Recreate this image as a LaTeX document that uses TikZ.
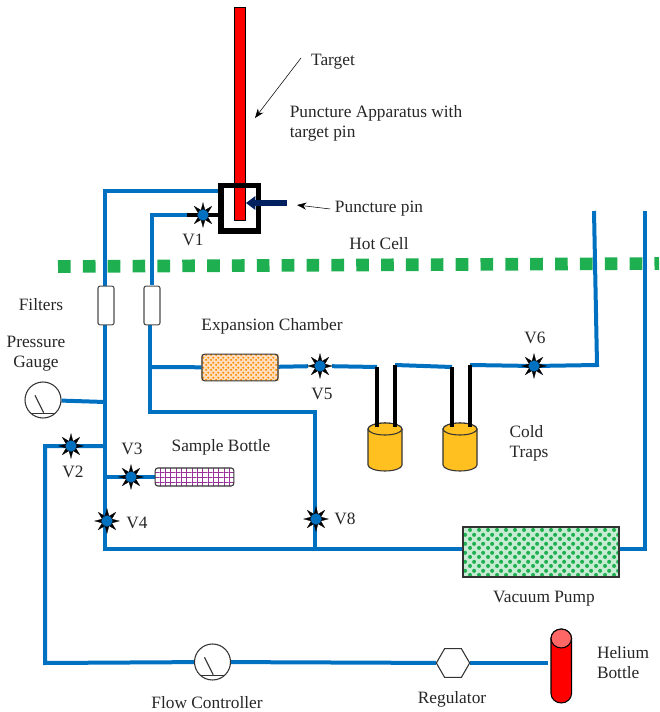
\documentclass[tikz,border=0pt]{standalone}
\usepackage{fontspec}
\setmainfont{Liberation Serif}
\usetikzlibrary{patterns,shapes.geometric,arrows.meta,backgrounds}
\definecolor{pipeblue}{RGB}{0,112,192}
\definecolor{trapgold}{RGB}{255,192,32}
\definecolor{cellgreen}{RGB}{30,176,80}
\definecolor{pinnavy}{RGB}{0,32,96}
\pgfdeclarepatternformonly{bigdots}{\pgfqpoint{0pt}{0pt}}{\pgfqpoint{6.75pt}{6.75pt}}{\pgfqpoint{6.75pt}{6.75pt}}{
	\pgfpathcircle{\pgfqpoint{1.69pt}{1.69pt}}{1.65pt}
	\pgfpathcircle{\pgfqpoint{5.06pt}{5.06pt}}{1.65pt}
	\pgfusepath{fill}}
\pgfdeclarepatternformonly{finedots}{\pgfqpoint{0pt}{0pt}}{\pgfqpoint{3.5pt}{3.5pt}}{\pgfqpoint{3.5pt}{3.5pt}}{
	\pgfpathcircle{\pgfqpoint{0.875pt}{0.875pt}}{0.85pt}
	\pgfpathcircle{\pgfqpoint{2.625pt}{2.625pt}}{0.85pt}
	\pgfusepath{fill}}
\pgfdeclarepatternformonly{widegrid}{\pgfqpoint{-0.5pt}{-0.5pt}}{\pgfqpoint{3.5pt}{3.5pt}}{\pgfqpoint{4pt}{4pt}}{
	\pgfsetlinewidth{0.6pt}
	\pgfpathmoveto{\pgfqpoint{-0.5pt}{0pt}}\pgfpathlineto{\pgfqpoint{3.5pt}{0pt}}
	\pgfpathmoveto{\pgfqpoint{0pt}{-0.5pt}}\pgfpathlineto{\pgfqpoint{0pt}{3.5pt}}
	\pgfusepath{stroke}}
\begin{document}
\begin{tikzpicture}[x=0.75pt, y=-0.75pt, every node/.style={font=\fontsize{13}{15}\selectfont, align=center, text=black!85},
	pipe/.style={draw=pipeblue, line width=3pt},
	tube/.style={draw=black, line width=3.4pt},
	valve/.style={draw=black, fill=black, line width=0.2pt, star, star points=8, star point ratio=2.4, minimum size=18.5pt, inner sep=0pt, path picture={\fill[pipeblue] (path picture bounding box.center) circle (4.2pt);}},
	filter/.style={draw=black!70, fill=white, rounded corners=1.5pt, thick, minimum width=12pt, minimum height=29pt, inner sep=0pt},
	dial/.style={draw=black!80, fill=white, circle, thick, minimum size=27pt, inner sep=0pt, path picture={
		\draw[black!80, thick] ([shift={(-6pt,3.5pt)}]path picture bounding box.center) -- ([shift={(0.5pt,-9.5pt)}]path picture bounding box.center);
		\draw[black!80, thick] ([shift={(-15pt,-10pt)}]path picture bounding box.center) -- ([shift={(15pt,-10pt)}]path picture bounding box.center);}}]
	\useasboundingbox (0,0) rectangle (659,712);
	% components
	\node[draw=black, fill=red, minimum width=8pt, minimum height=160pt, inner sep=0pt] (rod) at (239.5,114) {};
	\node[draw=black, line width=4pt, minimum width=28pt, minimum height=34pt, inner sep=0pt] (box) at (239.5,208.5) {};
	\node[valve] (V1) at (203,215) {};
	\node[valve] (V2) at (71,446) {};
	\node[valve] (V3) at (131,477) {};
	\node[valve] (V4) at (107,521) {};
	\node[valve] (V5) at (320,366) {};
	\node[valve] (V6) at (534,366) {};
	\node[valve] (V8) at (316,519) {};
	\node[filter] (filterA) at (106,305.5) {};
	\node[filter] (filterB) at (152,305.5) {};
	\node[draw=black!80, thick, pattern=finedots, pattern color=orange!90!yellow, rounded corners=2pt, minimum width=57pt, minimum height=20pt, inner sep=0pt] (chamber) at (240,367.5) {};
	\node[draw=black!80, thick, pattern=widegrid, pattern color=violet!80, rounded corners=2pt, minimum width=59pt, minimum height=13.5pt, inner sep=0pt] (sample) at (194.5,477) {};
	\node[draw=black!80, thick, pattern=bigdots, pattern color=cellgreen, minimum width=117pt, minimum height=37.5pt, inner sep=0pt] (pump) at (541,552) {};
	\node[dial] (gauge) at (43,400) {};
	\node[dial] (flow) at (212.5,662) {};
	\node[draw=black!80, fill=white, thick, regular polygon, regular polygon sides=6, minimum size=25pt, inner sep=0pt] (reg) at (453,663) {};
	% vessels
	\foreach \cx in {385,460} {
		\draw[black!80, thick, fill=trapgold] (\cx-17,429) -- (\cx-17,465) arc[start angle=180, end angle=360, x radius=12.75pt, y radius=4.5pt] -- (\cx+17,429) arc[start angle=0, end angle=180, x radius=12.75pt, y radius=4.5pt] -- cycle;
		\draw[black!80, thick, fill=trapgold] (\cx,429) ellipse [x radius=12.75pt, y radius=4.5pt];
	}
	\draw[black, thick, fill=red] (551,638.5) -- (551,693.5) arc[start angle=180, end angle=360, x radius=7.7pt, y radius=7.1pt] -- (571.5,638.5) arc[start angle=0, end angle=180, x radius=7.7pt, y radius=7.1pt] -- cycle;
	\draw[black, thick, fill=red!60!white] (561.25,638.5) ellipse [x radius=7.7pt, y radius=7.1pt];
	% junctions
	\coordinate (j1) at (105,191);
	\coordinate (j2) at (152,215);
	\coordinate (j3) at (150,367);
	\coordinate (j4) at (150,412);
	\coordinate (j5) at (315,412);
	\coordinate (j6) at (105,549);
	\coordinate (j7) at (315,549);
	\coordinate (j8) at (45,446);
	\coordinate (j9) at (45,663);
	\coordinate (a1) at (377,367);
	\coordinate (a2) at (395,365);
	\coordinate (a3) at (452,367);
	\coordinate (a4) at (470,365);
	\coordinate (b1) at (377,427);
	\coordinate (b2) at (395,427);
	\coordinate (b3) at (452,427);
	\coordinate (b4) at (470,427);
	\coordinate (c1) at (597,365);
	\coordinate (c2) at (594,211);
	\coordinate (d1) at (645,549);
	\coordinate (d2) at (645,211);
	\coordinate (e1) at (105,402);
	\coordinate (e2) at (105,446);
	\coordinate (e3) at (105,477);
	\coordinate (f3) at (152,285);
	\coordinate (f4) at (150,322);
	\coordinate (g1) at (548,663);
	\coordinate (k1) at (187,215);
	% pipes
	\begin{scope}[on background layer]
	\draw[draw=cellgreen, line width=9.5pt, dash pattern=on 9.5pt off 9.14pt] (58,266.5) -- (659,263.5);
	\fill[cellgreen!25] (pump.south west) rectangle (pump.north east);
	\fill[orange!25] (chamber.south west) rectangle (chamber.north east);
	\draw[pipe] (box.west |- j1) -- (j1) -- (j6) -- (pump.west |- j6);
	\draw[pipe] (k1) -- (j2) -- (f3);
	\draw[pipe] (f4) -- (j4) -- (j5) -- (j7);
	\draw[pipe] (j3) -- (chamber);
	\draw[pipe] (chamber) -- (V5) -- (a1);
	\draw[pipe] (a2) -- (a3);
	\draw[pipe] (a4) -- (V6.center) -- (c1) -- (c2);
	\draw[pipe] (gauge) -- (e1);
	\draw[pipe] (e2) -- (V2.center) -- (j8) -- (j9) -- (flow);
	\draw[pipe] (e3) -- (V3.center) -- (sample);
	\draw[pipe] (pump.east |- d1) -- (d1) -- (d2);
	\draw[pipe] (flow) -- (reg);
	\draw[pipe] (reg) -- (g1);
	\draw[black, line width=3.5pt] (k1) -- (box.west |- k1);
	\end{scope}
	\draw[tube] (a1) -- (b1);
	\draw[tube] (a2) -- (b2);
	\draw[tube] (a3) -- (b3);
	\draw[tube] (a4) -- (b4);
	% arrows
	\node[inner sep=0pt] (pinEnd) at (288,203) {};
	\coordinate (pinTip) at (246,203);
	\draw[draw=pinnavy, line width=4.5pt, -{Triangle[length=7pt,width=10pt]}] (pinEnd) -- (pinTip);
	\node (pinLabel) at (379,209) {Puncture pin};
	\draw[-{Stealth[length=7pt]}] (pinLabel.west) -- (297,205);
	\node (targetLabel) at (333,62) {Target};
	\coordinate (targetTip) at (255,118);
	\draw[-{Stealth[length=7pt]}] (301,58) -- (targetTip);
	% labels
	\node (apparatusLabel) at (376,123) [align=left] {Puncture Apparatus with\\target pin};
	\node (hotLabel) at (379,244) {Hot Cell};
	\node at (41,305) (filtersLabel) {Filters};
	\node at (36,353.5) (gaugeLabel) {Pressure\\Gauge};
	\node at (272,326) (chamberLabel) {Expansion Chamber};
	\node at (221,447) (sampleLabel) {Sample Bottle};
	\node at (529,443.5) (trapLabel) [align=left] {Cold\\Traps};
	\node at (544,599) (pumpLabel) {Vacuum Pump};
	\node at (207,703) (flowLabel) {Flow Controller};
	\node at (452,699) (regLabel) {Regulator};
	\node at (623,663) (bottleLabel) [align=left] {Helium\\Bottle};
	\node at (193,240) (labelA) {V1};
	\node at (73,472) (labelB) {V2};
	\node at (132,449) (labelC) {V3};
	\node at (137,523) (labelD) {V4};
	\node at (322,394) (labelE) {V5};
	\node at (535,338) (labelF) {V6};
	\node at (345,519) (labelG) {V8};
\end{tikzpicture}
\end{document}
